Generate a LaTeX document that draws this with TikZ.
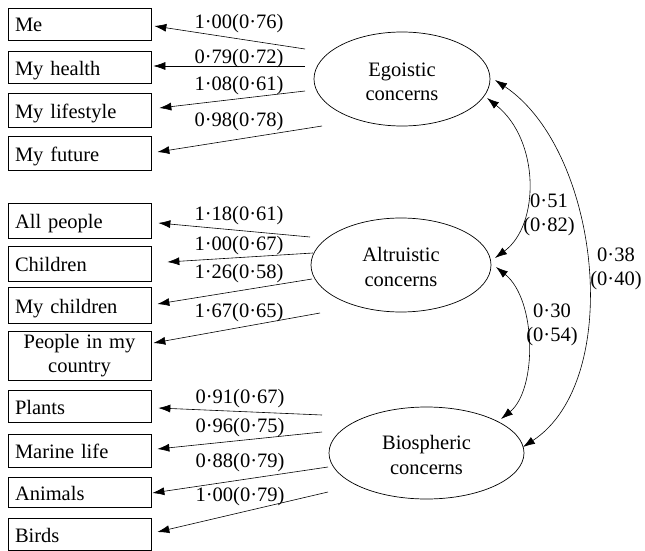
\documentclass[tikz,border=0pt]{standalone}
\usepackage{fontspec}
\setmainfont{Liberation Serif}
\usetikzlibrary{arrows.meta,shapes.geometric}
\begin{document}
\begin{tikzpicture}[x=1pt,y=-1pt,
  txt/.style={font=\fontsize{20.5}{24.5}\selectfont},
  box/.style={txt, draw, line width=0.7pt, rectangle, minimum width=143pt,
    text width=129pt, inner xsep=7pt, inner ysep=0pt, align=left,
    text height=16pt, text depth=0pt},
  boxc/.style={txt, draw, line width=0.7pt, rectangle, minimum width=143pt,
    text width=129pt, inner xsep=7pt, inner ysep=0pt, align=center},
  factor/.style={draw, line width=0.7pt, ellipse, inner sep=0pt},
  ftext/.style={txt, align=center, inner sep=0pt},
  lab/.style={txt, anchor=base, inner sep=0pt},
  clab/.style={txt, align=center, inner sep=0pt},
  arr/.style={line width=0.6pt, -{Latex[length=12pt,width=8pt]}},
  darr/.style={line width=0.6pt, {Latex[length=12pt,width=8pt]}-{Latex[length=12pt,width=8pt]}}
]
\useasboundingbox (0,0) rectangle (645,551);

% indicator boxes
\node[box, minimum height=32pt] (me) at (79.5,24) {Me};
\node[box, minimum height=32pt] (health) at (79.5,67) {My health};
\node[box, minimum height=34pt] (lifestyle) at (79.5,110) {My lifestyle};
\node[box, minimum height=34pt] (future) at (79.5,153) {My future};
\node[box, minimum height=35pt] (allpeople) at (79.5,220.5) {All people};
\node[box, minimum height=35pt] (children) at (79.5,263.5) {Children};
\node[box, minimum height=36pt] (mychildren) at (79.5,305) {My children};
\node[boxc, minimum height=49pt] (country) at (79.5,355.5) {People in my\\country};
\node[box, minimum height=32pt] (plants) at (79.5,406) {Plants};
\node[box, minimum height=33pt] (marine) at (79.5,450.5) {Marine life};
\node[box, minimum height=30pt] (animals) at (79.5,492) {Animals};
\node[box, minimum height=32pt] (birds) at (79.5,534.5) {Birds};

% factors
\node[factor, minimum width=176pt, minimum height=94pt] (ego) at (402,79) {};
\node[factor, minimum width=180pt, minimum height=94pt] (alt) at (401,265) {};
\node[factor, minimum width=195pt, minimum height=92pt] (bio) at (426.5,453) {};
\node[ftext] (egot) at ([shift={(0,3)}]ego.center) {Egoistic\\concerns};
\node[ftext] (altt) at ([shift={(0,2)}]alt.center) {Altruistic\\concerns};
\node[ftext] (biot) at ([shift={(0,2)}]bio.center) {Biospheric\\concerns};

% loading start points
\coordinate (e1) at (305,49);
\coordinate (e2) at (305,66);
\coordinate (e3) at (305,91);
\coordinate (e4) at (322,126);
\coordinate (a1) at (310,237);
\coordinate (a2) at (313,253);
\coordinate (a3) at (312,279);
\coordinate (a4) at (320,313);
\coordinate (b1) at (322,415);
\coordinate (b2) at (322,432);
\coordinate (b3) at (328,467);
\coordinate (b4) at (328,492);

\draw[arr] (e1) -- ([shift={(3,2)}]me.east);
\draw[arr] (e2) -- ([shift={(2,-1)}]health.east);
\draw[arr] (e3) -- ([shift={(8,-2)}]lifestyle.east);
\draw[arr] (e4) -- ([shift={(6,-1)}]future.east);
\draw[arr] (a1) -- ([shift={(7,2.5)}]allpeople.east);
\draw[arr] (a2) -- ([shift={(16,-1.5)}]children.east);
\draw[arr] (a3) -- ([shift={(6,-1)}]mychildren.east);
\draw[arr] (a4) -- ([shift={(2,-12.5)}]country.east);
\draw[arr] (b1) -- ([shift={(7,2)}]plants.east);
\draw[arr] (b2) -- ([shift={(6,-1.5)}]marine.east);
\draw[arr] (b3) -- ([shift={(1,1)}]animals.east);
\draw[arr] (b4) -- ([shift={(6,-2.5)}]birds.east);

% loading labels
\node[lab] (l1) at (239,28.5) {1·00(0·76)};
\node[lab] (l2) at (239,63.5) {0·79(0·72)};
\node[lab] (l3) at (239,90) {1·08(0·61)};
\node[lab] (l4) at (239,126.5) {0·98(0·78)};
\node[lab] (l5) at (239,220) {1·18(0·61)};
\node[lab] (l6) at (239,250) {1·00(0·67)};
\node[lab] (l7) at (239,278) {1·26(0·58)};
\node[lab] (l8) at (239,317) {1·67(0·65)};
\node[lab] (l9) at (240,403) {0·91(0·67)};
\node[lab] (l10) at (240,432) {0·96(0·75)};
\node[lab] (l11) at (240,467) {0·88(0·79)};
\node[lab] (l12) at (240,501) {1·00(0·79)};

% correlations
\coordinate (ea) at (487,98);
\coordinate (ae) at (495,258);
\coordinate (ab) at (496,267);
\coordinate (ba) at (501,419);
\coordinate (eb) at (495,80);
\coordinate (be) at (523,447);
\draw[darr] (ea) .. controls (540,140) and (540,225) .. (ae);
\draw[darr] (ab) .. controls (537,300) and (537,390) .. (ba);
\draw[darr] (eb) .. controls (600,150) and (625,380) .. (be);

\node[clab] (c1) at (549,215) {0·51\\(0·82)};
\node[clab] (c2) at (552,325) {0·30\\(0·54)};
\node[clab] (c3) at (616,269) {0·38\\(0·40)};
\end{tikzpicture}
\end{document}
